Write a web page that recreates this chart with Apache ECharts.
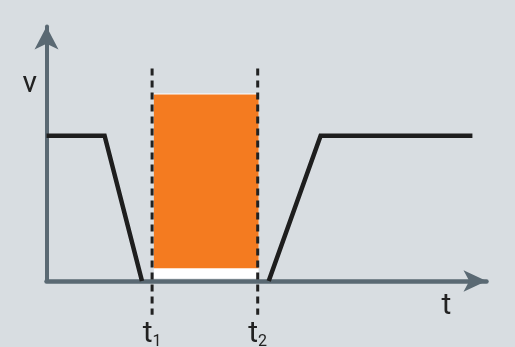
<!DOCTYPE html>
<html>
<head>
<meta charset="utf-8">
<script src="https://cdn.jsdelivr.net/npm/echarts@6/dist/echarts.min.js"></script>
<style>
html,body{margin:0;padding:0;background:#d8dde1;}
#c{width:515px;height:347px;}
</style>
</head>
<body>
<div id="c"></div>
<script>
// ---- data (axis units: x 0..100, y 0..100) ----
const tickValues = [24, 48];            // t1, t2
const tickSubs = ['1', '2'];
const axisNames = ['t', 'v'];
const fallCurve = [[0, 57.1], [13.2, 57.1], [21.7, 0]];
const riseCurve = [[50.5, 0], [62.3, 57.1], [96.8, 57.1]];
const markerRangeY = [-13.3, 83.5];
const pulseX = [24.4, 48.2];
const pulseY = [5.0, 73.3];
const pulseBackY = [1.0, 73.7];

const axisColor = '#5a6973';
const inkColor = '#1e1e1e';
const fontFam = 'Roboto, "Noto Sans", sans-serif';

const chart = echarts.init(document.getElementById('c'));

const markerSeries = tickValues.map(function (t) {
  return {
    type: 'line',
    data: [[t, markerRangeY[1]], [t, markerRangeY[0]]],
    showSymbol: false,
    clip: false,
    silent: true,
    z: 4,
    lineStyle: { color: '#222', width: 3, type: [7, 5], cap: 'butt' }
  };
});

chart.setOption({
  backgroundColor: '#d8dde1',
  animation: false,
  grid: { left: 46.5, right: 28.5, top: 26.5, bottom: 66, containLabel: false, outerBoundsMode: 'none' },
  xAxis: {
    type: 'value', min: 0, max: 100, interval: 24,
    name: axisNames[0],
    nameLocation: 'end',
    nameGap: -40,
    nameTextStyle: {
      fontFamily: fontFam, fontSize: 30, color: '#222', align: 'center',
      verticalAlign: 'top', lineHeight: 30, padding: [10, 0, 0, 0]
    },
    axisLine: {
      show: true, onZero: false,
      symbol: ['none', 'arrow'], symbolSize: [16, 23],
      lineStyle: { color: axisColor, width: 4.5 }
    },
    axisTick: { show: false },
    splitLine: { show: false },
    axisLabel: {
      show: true,
      margin: 38.5,
      showMinLabel: true, showMaxLabel: false,
      fontFamily: fontFam, fontSize: 30, color: '#222', lineHeight: 30,
      formatter: function (v) {
        const i = tickValues.indexOf(v);
        return i >= 0 ? 't{s|' + tickSubs[i] + '}' : '';
      },
      rich: {
        s: { fontFamily: fontFam, fontSize: 16, color: '#222', lineHeight: 27, verticalAlign: 'bottom' }
      }
    }
  },
  yAxis: {
    type: 'value', min: 0, max: 100,
    name: axisNames[1],
    nameLocation: 'end',
    nameGap: -58,
    nameTextStyle: {
      fontFamily: fontFam, fontSize: 30, color: '#222', align: 'right',
      verticalAlign: 'middle', padding: [0, 9.5, 0, 0]
    },
    axisLine: {
      show: true, onZero: false,
      symbol: ['none', 'arrow'], symbolSize: [18, 23],
      lineStyle: { color: axisColor, width: 4 }
    },
    axisTick: { show: false },
    splitLine: { show: false },
    axisLabel: { show: false }
  },
  series: [
    {
      type: 'line', data: [], silent: true, z: 1,
      markArea: {
        silent: true,
        data: [
          [{ coord: [pulseX[0], pulseBackY[0]], itemStyle: { color: '#ffffff' } }, { coord: [pulseX[1], pulseBackY[1]] }],
          [{ coord: [pulseX[0], pulseY[0]], itemStyle: { color: '#f47b20' } }, { coord: [pulseX[1], pulseY[1]] }]
        ]
      }
    },
    {
      type: 'line', data: fallCurve, showSymbol: false, z: 5, silent: true,
      lineStyle: { color: inkColor, width: 4.5, join: 'miter', cap: 'butt' }
    },
    {
      type: 'line', data: riseCurve, showSymbol: false, z: 5, silent: true,
      lineStyle: { color: inkColor, width: 4.5, join: 'miter', cap: 'butt' }
    }
  ].concat(markerSeries)
});
</script>
</body>
</html>
